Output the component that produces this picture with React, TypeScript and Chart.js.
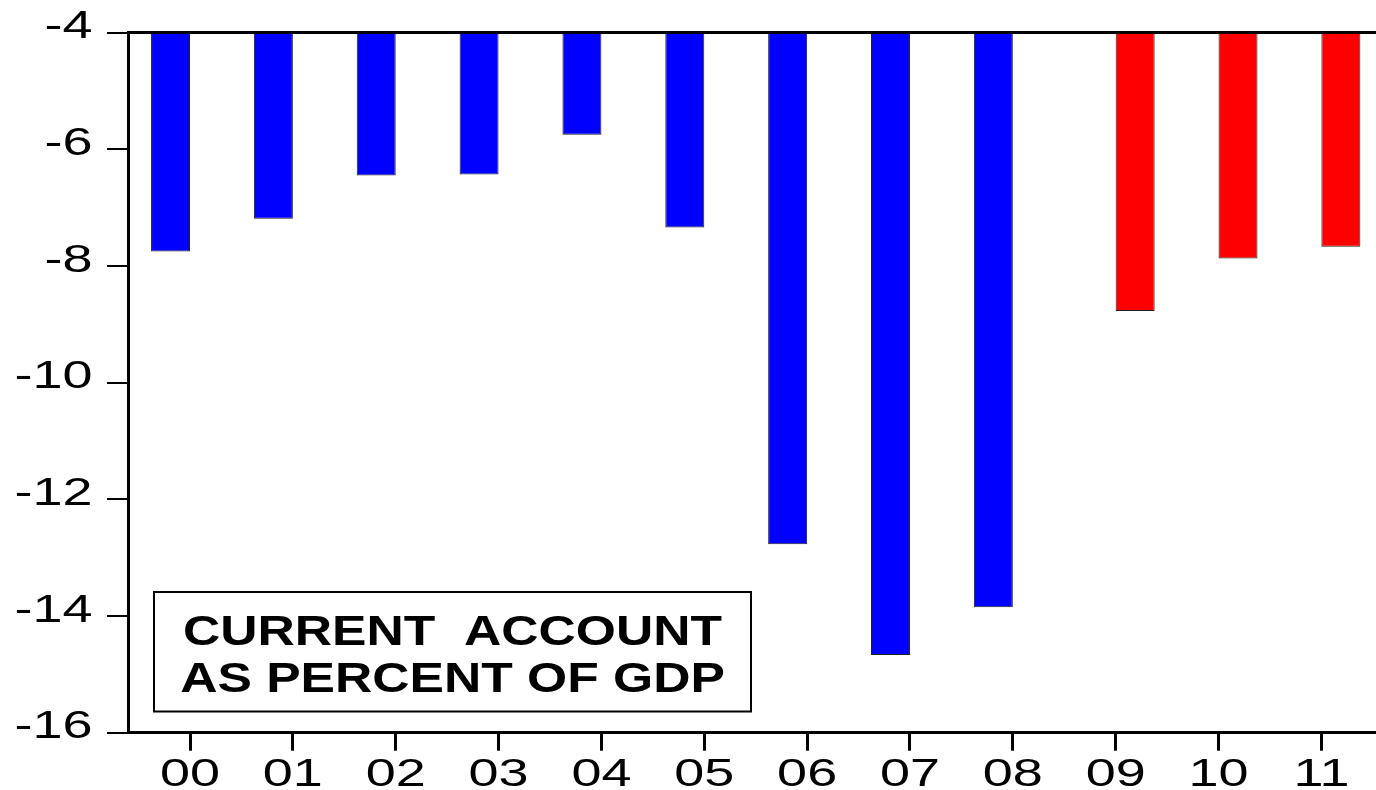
import React, { useEffect, useRef } from "react";
import { Chart, registerables } from "chart.js";

Chart.register(...registerables);

// ---- data ----
const categories = ["00", "01", "02", "03", "04", "05", "06", "07", "08", "09", "10", "11"];
const actualValues = [-7.75, -7.19, -6.45, -6.43, -5.75, -7.34, -12.77, -14.67, -13.85, null, null, null];
const forecastValues = [null, null, null, null, null, null, null, null, null, -8.77, -7.87, -7.67];
const yTickValues = [-16, -14, -12, -10, -8, -6, -4];
const annotationLines = ["CURRENT  ACCOUNT", "AS PERCENT OF GDP"];

const AXIS_FONT_SIZE = 38;
const AXIS_STRETCH = 1.42;
const BOX_FONT_SIZE = 43;
const BOX_STRETCH = 1.2;

const labelPlugin = {
  id: "stretchedLabels",
  afterDraw(chart: any) {
    const ctx = chart.ctx as CanvasRenderingContext2D;
    const xs = chart.scales.x;
    const ys = chart.scales.y;
    ctx.save();
    ctx.fillStyle = "#000";
    ctx.font = `${AXIS_FONT_SIZE}px "Liberation Sans", Arial, sans-serif`;
    ctx.textBaseline = "alphabetic";

    // y tick labels
    ctx.textAlign = "right";
    for (const v of yTickValues) {
      const py = ys.getPixelForValue(v);
      ctx.save();
      ctx.translate(92.5, py - 8 + 0.358 * AXIS_FONT_SIZE);
      ctx.scale(AXIS_STRETCH, 1);
      ctx.fillText(String(v), 0, 0);
      ctx.restore();
    }

    // x tick labels
    ctx.textAlign = "center";
    categories.forEach((c, i) => {
      const px = xs.getPixelForValue(i);
      ctx.save();
      ctx.translate(px, 786);
      ctx.scale(AXIS_STRETCH, 1);
      ctx.fillText(c, 0, 0);
      ctx.restore();
    });

    // annotation box
    const bx = 154, by = 592, bw = 597, bh = 119.5;
    ctx.fillStyle = "#fff";
    ctx.fillRect(bx, by, bw, bh);
    ctx.strokeStyle = "#000";
    ctx.lineWidth = 2;
    ctx.strokeRect(bx, by, bw, bh);
    ctx.fillStyle = "#000";
    ctx.font = `bold ${BOX_FONT_SIZE}px "Liberation Sans", Arial, sans-serif`;
    ctx.textAlign = "center";
    const baselines = [645, 692];
    annotationLines.forEach((t, i) => {
      ctx.save();
      ctx.translate(bx + bw / 2, baselines[i]);
      ctx.scale(BOX_STRETCH, 1);
      ctx.fillText(t, 0, 0);
      ctx.restore();
    });
    ctx.restore();
  },
};

const X_MIN = -0.603;
const X_MAX = 11.531;

export default function App() {
  const canvasRef = useRef<HTMLCanvasElement | null>(null);

  useEffect(() => {
    if (!canvasRef.current) return;
    const chart = new Chart(canvasRef.current, {
      type: "bar",
      data: {
        datasets: [
          {
            label: "Actual",
            data: categories.map((_, i) => ({ x: i, y: actualValues[i] })),
            backgroundColor: "#0000ff",
            borderColor: "#222222",
            borderWidth: 1,
            base: -4,
          } as any,
          {
            label: "Forecast",
            data: categories.map((_, i) => ({ x: i, y: forecastValues[i] })),
            backgroundColor: "#ff0000",
            borderColor: "#222222",
            borderWidth: 1,
            base: -4,
          } as any,
        ],
      },
      options: {
        animation: false,
        responsive: true,
        maintainAspectRatio: false,
        layout: { padding: 0 },
        datasets: { bar: { categoryPercentage: 0.758, barPercentage: 1 } },
        plugins: { legend: { display: false }, tooltip: { enabled: false } },
        scales: {
          x: {
            type: "linear",
            position: "bottom",
            offset: false,
            min: X_MIN,
            max: X_MAX,
            ticks: { display: false },
            grid: { display: true, offset: false, drawOnChartArea: false, drawTicks: true, tickLength: 18, lineWidth: 3, color: "#000" },
            border: { display: true, width: 3, color: "#000" },
            afterBuildTicks: (s: any) => {
              s.ticks = categories.map((_, i) => ({ value: i }));
            },
            afterFit: (s: any) => {
              s.height = 57.3;
            },
          },
          xTop: {
            type: "linear",
            position: "top",
            offset: false,
            min: X_MIN,
            max: X_MAX,
            ticks: { display: false },
            grid: { display: false, offset: false },
            border: { display: true, width: 3, color: "#000" },
            afterFit: (s: any) => {
              s.height = 32.7;
            },
          },
          y: {
            type: "linear",
            position: "left",
            min: -16,
            max: -4,
            ticks: { display: false },
            grid: { display: true, drawOnChartArea: false, drawTicks: true, tickLength: 21, lineWidth: 2, color: "#000" },
            border: { display: true, width: 3, color: "#000" },
            afterBuildTicks: (s: any) => {
              s.ticks = yTickValues.map((v) => ({ value: v }));
            },
            afterFit: (s: any) => {
              s.width = 128;
            },
          },
        },
      } as any,
      plugins: [labelPlugin],
    });
    return () => chart.destroy();
  }, []);

  return (
    <div style={{ position: "absolute", left: 0, top: 0, width: 1376, height: 790, background: "#fff" }}>
      <canvas ref={canvasRef} />
    </div>
  );
}
